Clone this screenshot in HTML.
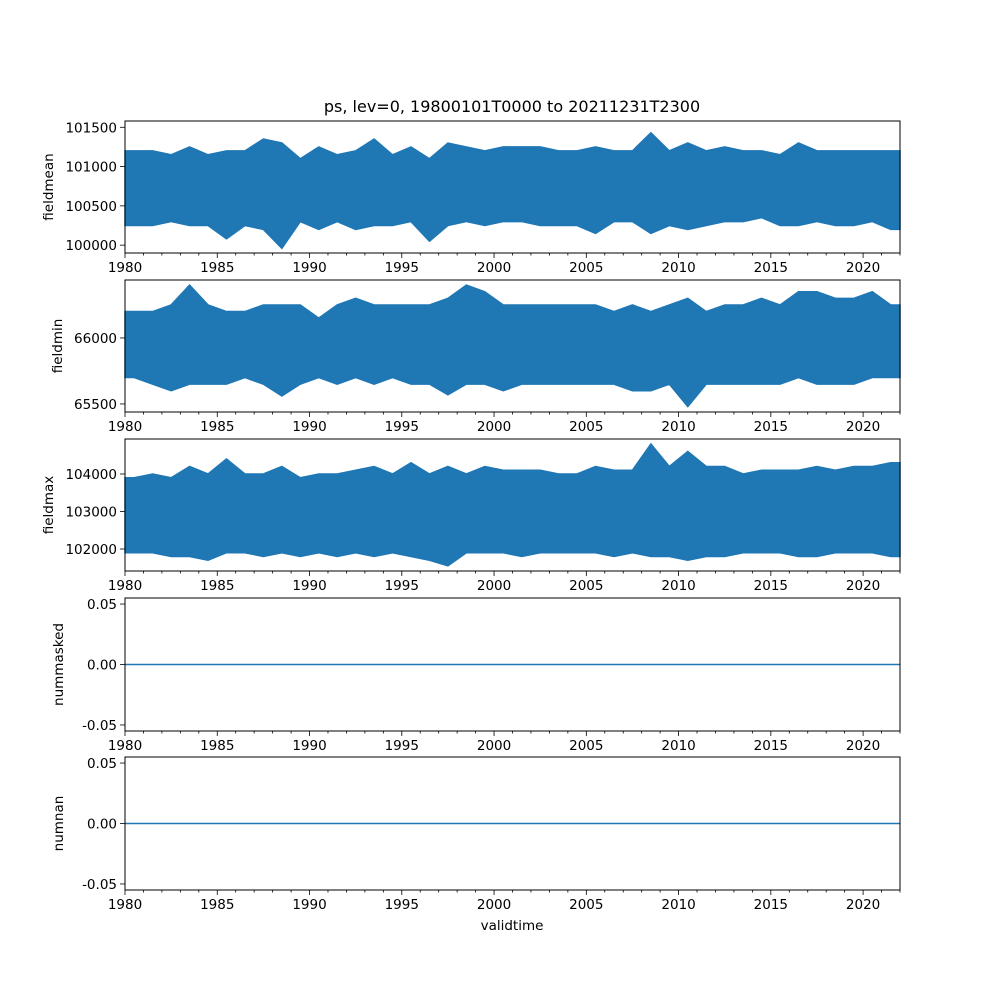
<!DOCTYPE html>
<html><head><meta charset="utf-8"><style>
body{margin:0;background:#fff}
svg text{font-family:"DejaVu Sans","Liberation Sans",sans-serif;font-size:13.5px;fill:#000}
</style></head><body>
<svg id="fig" width="1000" height="1000" xmlns="http://www.w3.org/2000/svg">
<rect width="1000" height="1000" fill="#fff"/>
<text x="512" y="112" text-anchor="middle" style="font-size:16px">ps, lev=0, 19800101T0000 to 20211231T2300</text>
<text x="512" y="930" text-anchor="middle">validtime</text>
</svg>
<script>
const years=[1980,1981,1982,1983,1984,1985,1986,1987,1988,1989,1990,1991,1992,1993,1994,1995,1996,1997,1998,1999,2000,2001,2002,2003,2004,2005,2006,2007,2008,2009,2010,2011,2012,2013,2014,2015,2016,2017,2018,2019,2020,2021];
const meanMax=[101200,101200,101150,101250,101150,101200,101200,101350,101300,101100,101250,101150,101200,101350,101150,101250,101100,101300,101250,101200,101250,101250,101250,101200,101200,101250,101200,101200,101430,101200,101300,101200,101250,101200,101200,101150,101300,101200,101200,101200,101200,101200];
const meanMin=[100250,100250,100300,100250,100250,100080,100250,100200,99960,100300,100200,100300,100200,100250,100250,100300,100050,100250,100300,100250,100300,100300,100250,100250,100250,100150,100300,100300,100150,100250,100200,100250,100300,100300,100350,100250,100250,100300,100250,100250,100300,100200];
const minMax=[66200,66200,66250,66400,66250,66200,66200,66250,66250,66250,66150,66250,66300,66250,66250,66250,66250,66300,66400,66350,66250,66250,66250,66250,66250,66250,66200,66250,66200,66250,66300,66200,66250,66250,66300,66250,66350,66350,66300,66300,66350,66250];
const minMin=[65700,65650,65600,65650,65650,65650,65700,65650,65560,65650,65700,65650,65700,65650,65700,65650,65650,65570,65650,65650,65600,65650,65650,65650,65650,65650,65650,65600,65600,65650,65480,65650,65650,65650,65650,65650,65700,65650,65650,65650,65700,65700];
const maxMax=[103900,104000,103900,104200,104000,104400,104000,104000,104200,103900,104000,104000,104100,104200,104000,104300,104000,104200,104000,104200,104100,104100,104100,104000,104000,104200,104100,104100,104800,104200,104600,104200,104200,104000,104100,104100,104100,104200,104100,104200,104200,104300];
const maxMin=[101900,101900,101800,101800,101700,101900,101900,101800,101900,101800,101900,101800,101900,101800,101900,101800,101700,101550,101900,101900,101900,101800,101900,101900,101900,101900,101800,101900,101800,101800,101700,101800,101800,101900,101900,101900,101800,101800,101900,101900,101900,101800];
const zeroVals=[0,0];
const xTicks=[1980,1985,1990,1995,2000,2005,2010,2015,2020];
const panels=[
 {name:'fieldmean',top:121,bot:253,lo:99900,hi:101580,ticks:[100000,100500,101000,101500],fmt:v=>String(v),hi_s:meanMax,lo_s:meanMin},
 {name:'fieldmin',top:280,bot:412,lo:65439,hi:66439,ticks:[65500,66000],fmt:v=>String(v),hi_s:minMax,lo_s:minMin},
 {name:'fieldmax',top:439,bot:571,lo:101413,hi:104933,ticks:[102000,103000,104000],fmt:v=>String(v),hi_s:maxMax,lo_s:maxMin},
 {name:'nummasked',top:598,bot:731,lo:-0.055,hi:0.055,ticks:[-0.05,0,0.05],fmt:v=>v.toFixed(2),flat:true},
 {name:'numnan',top:757,bot:890,lo:-0.055,hi:0.055,ticks:[-0.05,0,0.05],fmt:v=>v.toFixed(2),flat:true}
];
const svg=document.getElementById('fig');const NS='http://www.w3.org/2000/svg';
const X0=125,X1=900;const xs=y=>X0+(y-1980)/(2022-1980)*(X1-X0);
function mk(t,a,p){const e=document.createElementNS(NS,t);for(const k in a)e.setAttribute(k,a[k]);(p||svg).appendChild(e);return e;}
panels.forEach(p=>{
 const g=mk('g',{});
 
 
 const ys=v=>p.bot-(v-p.lo)/(p.hi-p.lo)*(p.bot-p.top);
 if(p.flat){
  const l=mk('line',{x1:xs(1980),x2:xs(2022),y1:ys(zeroVals[0]),y2:ys(zeroVals[1]),stroke:'#1f77b4','stroke-width':1.5},g);
  
  
 }else{
  const top=[xs(1980)+','+ys(p.hi_s[0])];
  years.forEach((y,i)=>top.push(xs(y+0.5)+','+ys(p.hi_s[i])));
  top.push(xs(2022)+','+ys(p.hi_s[41]));
  const bot=[xs(2022)+','+ys(p.lo_s[41])];
  for(let i=years.length-1;i>=0;i--)bot.push(xs(years[i]+0.5)+','+ys(p.lo_s[i]));
  bot.push(xs(1980)+','+ys(p.lo_s[0]));
  const poly=mk('polygon',{points:top.concat(bot).join(' '),fill:'#1f77b4',stroke:'#1f77b4','stroke-width':1.5},g);
  
  
 }
 const fr=mk('rect',{x:X0,y:p.top,width:X1-X0,height:p.bot-p.top,fill:'none',stroke:'#000','stroke-width':1},g);
 
 
 for(let y=1980;y<=2022;y++){const major=xTicks.includes(y);mk('line',{x1:xs(y),x2:xs(y),y1:p.bot,y2:p.bot+(major?5:2.5),stroke:'#000','stroke-width':0.8},g);}
 xTicks.forEach(y=>{const t=mk('text',{x:xs(y),y:p.bot+19,'text-anchor':'middle'},g);t.textContent=y;
  
  });
 p.ticks.forEach(v=>{const yy=ys(v);mk('line',{x1:X0-5,x2:X0,y1:yy,y2:yy,stroke:'#000','stroke-width':0.8},g);
  const t=mk('text',{x:X0-8,y:yy+5,'text-anchor':'end'},g);t.textContent=p.fmt(v);
  
  });
 const lx=p.flat?63:(p.name=='fieldmin'?62:53);const cy=(p.top+p.bot)/2;
 const yl=mk('text',{x:lx,y:cy,'text-anchor':'middle',transform:'rotate(-90 '+lx+' '+cy+')'},g);yl.textContent=p.name;
 
 
});
</script>
</body></html>
